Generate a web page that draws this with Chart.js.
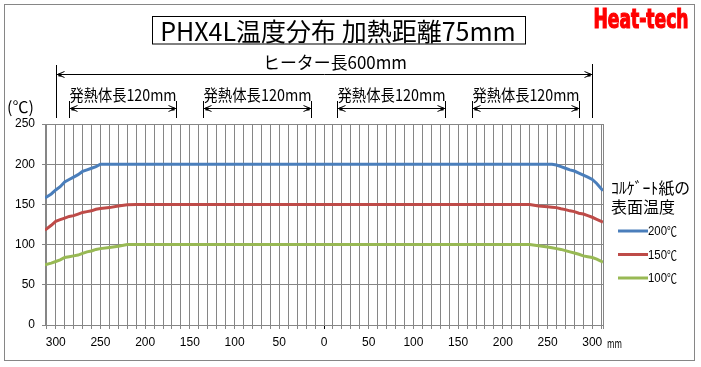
<!DOCTYPE html>
<html>
<head>
<meta charset="utf-8">
<script src="https://cdn.jsdelivr.net/npm/chart.js@4/dist/chart.umd.min.js"></script>
<style>
  html, body { margin: 0; padding: 0; background: #fff; }
  canvas { display: block; }
</style>
</head>
<body>
<canvas id="chart" width="701" height="367"></canvas>
<script>
// position along the heater (mm), 0 = centre
const positions = [-312, -305, -300, -295, -290, -285, -280, -275, -270, -265, -260, -255, -250, -240, -230, -220, -210, 0,
  210, 220, 230, 240, 250, 255, 260, 265, 270, 275, 280, 285, 290, 295, 300, 305, 312];
// surface temperature of the corrugated paper (℃)
const temp200 = [158, 163, 168, 172, 178, 181, 184, 187, 191, 193, 195, 197, 200, 200, 200, 200, 200, 200,
  200, 200, 200, 200, 200, 200, 199, 197, 195, 193, 191.5, 189, 186.5, 184, 181, 176, 167];
const temp150 = [118, 124, 129, 131, 133, 135, 136, 138, 140, 141, 142, 144, 145, 146, 148, 149.5, 150, 150,
  150, 150, 150, 148, 147, 146.5, 146, 144.5, 143.5, 142, 141, 139, 138, 136, 134, 131.5, 128];
const temp100 = [75, 77, 79, 81, 84, 85, 86, 87, 89, 91, 92, 94, 95, 96.5, 98, 100, 100, 100,
  100, 100, 100, 98.5, 97, 96, 95, 94, 92.5, 91, 89.5, 88, 86, 85, 84, 82, 78];
const seriesNames = ['200℃', '150℃', '100℃'];
const yTicks = [0, 50, 100, 150, 200, 250];

// heater layout (mm)
const heaterTotal = [-300, 300];
const heaterStarts = [-285, -135, 15, 165];
const heaterLength = 120;

const titleText = 'PHX4L温度分布 加熱距離75mm';
const totalText = 'ヒーター長600mm';
const heaterText = '発熱体長120mm';
const legendTitle = ['ｺﾙｹﾞｰﾄ紙の', '表面温度'];

const colors = ['#4a7ebb', '#be4b48', '#98b954'];
const gridColor = '#868686';
const jp = '"Noto Sans CJK JP", sans-serif';
const num = '"Liberation Sans", Arial, sans-serif';
const narrow = '"Liberation Sans Narrow", "DejaVu Sans Condensed", sans-serif';

const toPoints = (ys) => positions.map((x, i) => ({ x, y: ys[i] }));

function arrowLine(ctx, x1, x2, y) {
  ctx.beginPath();
  ctx.moveTo(x1, y);
  ctx.lineTo(x2, y);
  // open heads
  ctx.moveTo(x1 + 8, y - 3);
  ctx.lineTo(x1 + 1, y);
  ctx.lineTo(x1 + 8, y + 3);
  ctx.moveTo(x2 - 8, y - 3);
  ctx.lineTo(x2 - 1, y);
  ctx.lineTo(x2 - 8, y + 3);
  ctx.stroke();
  ctx.fillRect(x1 + 2, y - 1, 3, 3);
  ctx.fillRect(x2 - 5, y - 1, 3, 3);
}

const decorations = {
  id: 'decorations',
  beforeDraw(chart) {
    const { ctx } = chart;
    ctx.save();
    ctx.fillStyle = '#fff';
    ctx.fillRect(0, 0, chart.width, chart.height);
    ctx.restore();
  },
  afterDraw(chart) {
    const { ctx, scales: { x } } = chart;
    ctx.save();

    // outer frame
    ctx.strokeStyle = gridColor;
    ctx.lineWidth = 1;
    ctx.strokeRect(4.5, 4.5, 690, 356);

    // title in a box
    ctx.fillStyle = '#000';
    ctx.textAlign = 'center';
    ctx.textBaseline = 'middle';
    ctx.font = '25px ' + jp;
    ctx.fillText(titleText, 338, 31, 364);
    ctx.strokeStyle = '#000';
    ctx.strokeRect(152.5, 16.5, 373, 27.5);

    // brand
    ctx.fillStyle = '#ff0000';
    ctx.strokeStyle = '#ff0000';
    ctx.lineWidth = 1.2;
    ctx.font = 'bold 26px ' + narrow;
    ctx.fillText('Heat-tech', 641, 21, 95);
    ctx.strokeText('Heat-tech', 641, 21, 95);
    ctx.lineWidth = 1;

    // total heater length
    ctx.fillStyle = '#000';
    ctx.strokeStyle = '#000';
    ctx.font = '17px ' + jp;
    ctx.fillText(totalText, 335, 63, 144);
    const l = Math.round(x.getPixelForValue(heaterTotal[0])) + 0.5;
    const r = Math.round(x.getPixelForValue(heaterTotal[1])) + 0.5;
    ctx.beginPath();
    ctx.moveTo(l, 65); ctx.lineTo(l, 118);
    ctx.moveTo(r, 64); ctx.lineTo(r, 118);
    ctx.stroke();
    arrowLine(ctx, l, r, 74.5);

    // heating elements
    ctx.font = '16px ' + jp;
    heaterStarts.forEach((s) => {
      const a = Math.round(x.getPixelForValue(s)) + 0.5;
      const b = Math.round(x.getPixelForValue(s + heaterLength)) + 0.5;
      ctx.fillText(heaterText, (a + b) / 2, 95, b - a);
      ctx.beginPath();
      ctx.moveTo(a, 101); ctx.lineTo(a, 118);
      ctx.moveTo(b, 101); ctx.lineTo(b, 118);
      ctx.stroke();
      arrowLine(ctx, a, b, 108.5);
    });

    // axis unit labels
    ctx.textAlign = 'left';
    ctx.font = '16px ' + jp;
    ctx.fillText('(℃)', 7, 107, 32);
    ctx.font = '13px ' + jp;
    ctx.fillText('mm', 607, 343, 15);

    // legend
    ctx.font = '16px ' + jp;
    ctx.fillText(legendTitle[0], 611, 188, 79);
    ctx.fillText(legendTitle[1], 611, 207, 66);
    const rows = [231, 254.5, 278];
    chart.data.datasets.forEach((ds, i) => {
      ctx.strokeStyle = ds.borderColor;
      ctx.lineWidth = 3;
      ctx.beginPath();
      ctx.moveTo(618, rows[i]);
      ctx.lineTo(648, rows[i]);
      ctx.stroke();
      ctx.fillStyle = '#000';
      const digits = ds.label.replace('℃', '');
      ctx.font = '13px ' + num;
      ctx.fillText(digits, 648, rows[i] + 0.5, 19);
      ctx.font = '13px ' + jp;
      ctx.fillText('℃', 667, rows[i] + 0.5, 10);
    });

    ctx.restore();
  },
};

new Chart(document.getElementById('chart'), {
  type: 'line',
  data: {
    datasets: [temp200, temp150, temp100].map((ys, i) => ({
      label: seriesNames[i],
      data: toPoints(ys),
      borderColor: colors[i],
      backgroundColor: colors[i],
      borderWidth: 3,
      pointRadius: 0,
      tension: 0,
    })),
  },
  plugins: [decorations],
  options: {
    responsive: false,
    devicePixelRatio: 1,
    animation: false,
    layout: { padding: { left: 0, top: 124, right: 98, bottom: 0 } },
    plugins: {
      legend: { display: false },
      tooltip: { enabled: false },
    },
    scales: {
      x: {
        type: 'linear',
        min: -312,
        max: 312,
        afterBuildTicks(scale) {
          const ticks = [];
          for (let v = -310; v <= 310; v += 10) ticks.push({ value: v });
          ticks.push({ value: 312 });
          scale.ticks = ticks;
        },
        afterFit(scale) { scale.height = 42; },
        ticks: {
          autoSkip: false,
          maxRotation: 0,
          padding: 6,
          color: '#000',
          font: { family: num, size: 12 },
          callback: (v) => (v % 50 === 0 ? String(Math.abs(v)) : ''),
        },
        grid: {
          color: gridColor,
          lineWidth: 1,
          tickLength: 4,
          tickColor: (c) => (c.tick && c.tick.value === 0 ? '#000' : gridColor),
        },
        border: { color: gridColor },
      },
      y: {
        min: 0,
        max: 250,
        afterBuildTicks(scale) { scale.ticks = yTicks.map((v) => ({ value: v })); },
        afterFit(scale) { scale.width = 45; },
        ticks: {
          padding: 7,
          color: '#000',
          font: { family: num, size: 12 },
        },
        grid: { color: gridColor, lineWidth: 1, tickLength: 3 },
        border: { color: gridColor },
      },
    },
  },
});
</script>
</body>
</html>
